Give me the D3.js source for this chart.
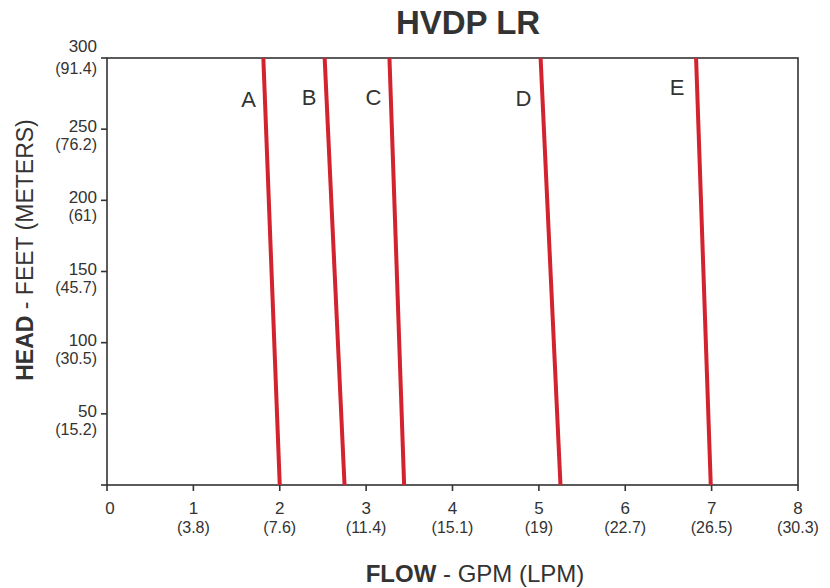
<!DOCTYPE html>
<html>
<head>
<meta charset="utf-8">
<script src="https://cdn.jsdelivr.net/npm/d3@7"></script>
<style>
  body { margin: 0; background: #fff; }
  text { font-family: "Liberation Sans", Arial, sans-serif; fill: #333; }
</style>
</head>
<body>
<div id="chart"></div>
<script>
// Chart data
const curveNames = ["A", "B", "C", "D", "E"];
const flowAtTop = [1.81, 2.52, 3.27, 5.02, 6.82];     // GPM at 300 ft
const flowAtBottom = [2.0, 2.75, 3.44, 5.25, 6.99];   // GPM at 0 ft
const labelPos = [[1.64, 265.5], [2.34, 267], [3.085, 267], [4.82, 266], [6.6, 274]]; // [gpm, ft]

const xTicks = [0, 1, 2, 3, 4, 5, 6, 7, 8];
const xSubLabels = ["", "(3.8)", "(7.6)", "(11.4)", "(15.1)", "(19)", "(22.7)", "(26.5)", "(30.3)"];
const yTicks = [50, 100, 150, 200, 250, 300];
const ySubLabels = ["(15.2)", "(30.5)", "(45.7)", "(61)", "(76.2)", "(91.4)"];

const W = 830, H = 588;
const margin = {top: 58, right: 32, bottom: 103, left: 107};
const width = W - margin.left - margin.right;
const height = H - margin.top - margin.bottom;

const svg = d3.select("#chart").append("svg")
    .attr("width", W)
    .attr("height", H);

const g = svg.append("g")
    .attr("transform", `translate(${margin.left},${margin.top})`);

const x = d3.scaleLinear().domain([0, 8]).range([0, width]);
const y = d3.scaleLinear().domain([0, 300]).range([height, 0]);

// Title
svg.append("text")
    .attr("x", 468)
    .attr("y", 34)
    .attr("text-anchor", "middle")
    .style("font-size", "33px")
    .style("font-weight", "bold")
    .text("HVDP LR");

// Frame
g.append("rect")
    .attr("x", 0).attr("y", 0)
    .attr("width", width).attr("height", height)
    .attr("fill", "none")
    .attr("stroke", "#333")
    .attr("stroke-width", 1.6);

// X axis ticks and labels
const xt = g.selectAll(".xt").data(xTicks).enter().append("g")
    .attr("transform", d => `translate(${x(d)},${height})`);
xt.append("line").attr("y1", 0).attr("y2", 6)
    .attr("stroke", "#333").attr("stroke-width", 1.6);
xt.append("text")
    .attr("x", d => d === 0 ? 3 : 0)
    .attr("y", 29)
    .attr("text-anchor", "middle")
    .style("font-size", "17px")
    .text(d => d);
xt.append("text")
    .attr("y", 48)
    .attr("text-anchor", "middle")
    .style("font-size", "16px")
    .text((d, i) => xSubLabels[i]);
g.append("line").attr("x1", -6).attr("x2", 0).attr("y1", height).attr("y2", height)
    .attr("stroke", "#333").attr("stroke-width", 1.6);

// Y axis ticks and labels
const yt = g.selectAll(".yt").data(yTicks).enter().append("g")
    .attr("transform", d => `translate(0,${y(d)})`);
yt.append("line").attr("x1", -6).attr("x2", 0)
    .attr("stroke", "#333").attr("stroke-width", 1.6);
yt.append("text")
    .attr("x", -10)
    .attr("y", d => d === 300 ? -6 : 3)
    .attr("text-anchor", "end")
    .style("font-size", "17px")
    .text(d => d);
yt.append("text")
    .attr("x", -10)
    .attr("y", d => d === 300 ? 16 : 21)
    .attr("text-anchor", "end")
    .style("font-size", "16px")
    .text((d, i) => ySubLabels[i]);

// Curves
const line = d3.line().x(d => x(d[0])).y(d => y(d[1]));
curveNames.forEach((name, i) => {
    g.append("path")
        .datum([[flowAtTop[i], 300], [flowAtBottom[i], 0]])
        .attr("d", line)
        .attr("fill", "none")
        .attr("stroke", "#d2232e")
        .attr("stroke-width", 4);
    g.append("text")
        .attr("x", x(labelPos[i][0]))
        .attr("y", y(labelPos[i][1]))
        .attr("text-anchor", "middle")
        .style("font-size", "22px")
        .text(name);
});

// Axis titles
const xTitle = svg.append("text")
    .attr("x", 475)
    .attr("y", 582)
    .attr("text-anchor", "middle")
    .style("font-size", "24px");
xTitle.append("tspan").style("font-weight", "bold").text("FLOW");
xTitle.append("tspan").text(" - GPM (LPM)");

const yTitle = svg.append("text")
    .attr("transform", "translate(33,250) rotate(-90)")
    .attr("text-anchor", "middle")
    .style("font-size", "23px");
yTitle.append("tspan").style("font-weight", "bold").text("HEAD");
yTitle.append("tspan").text(" - FEET (METERS)");
</script>
</body>
</html>
